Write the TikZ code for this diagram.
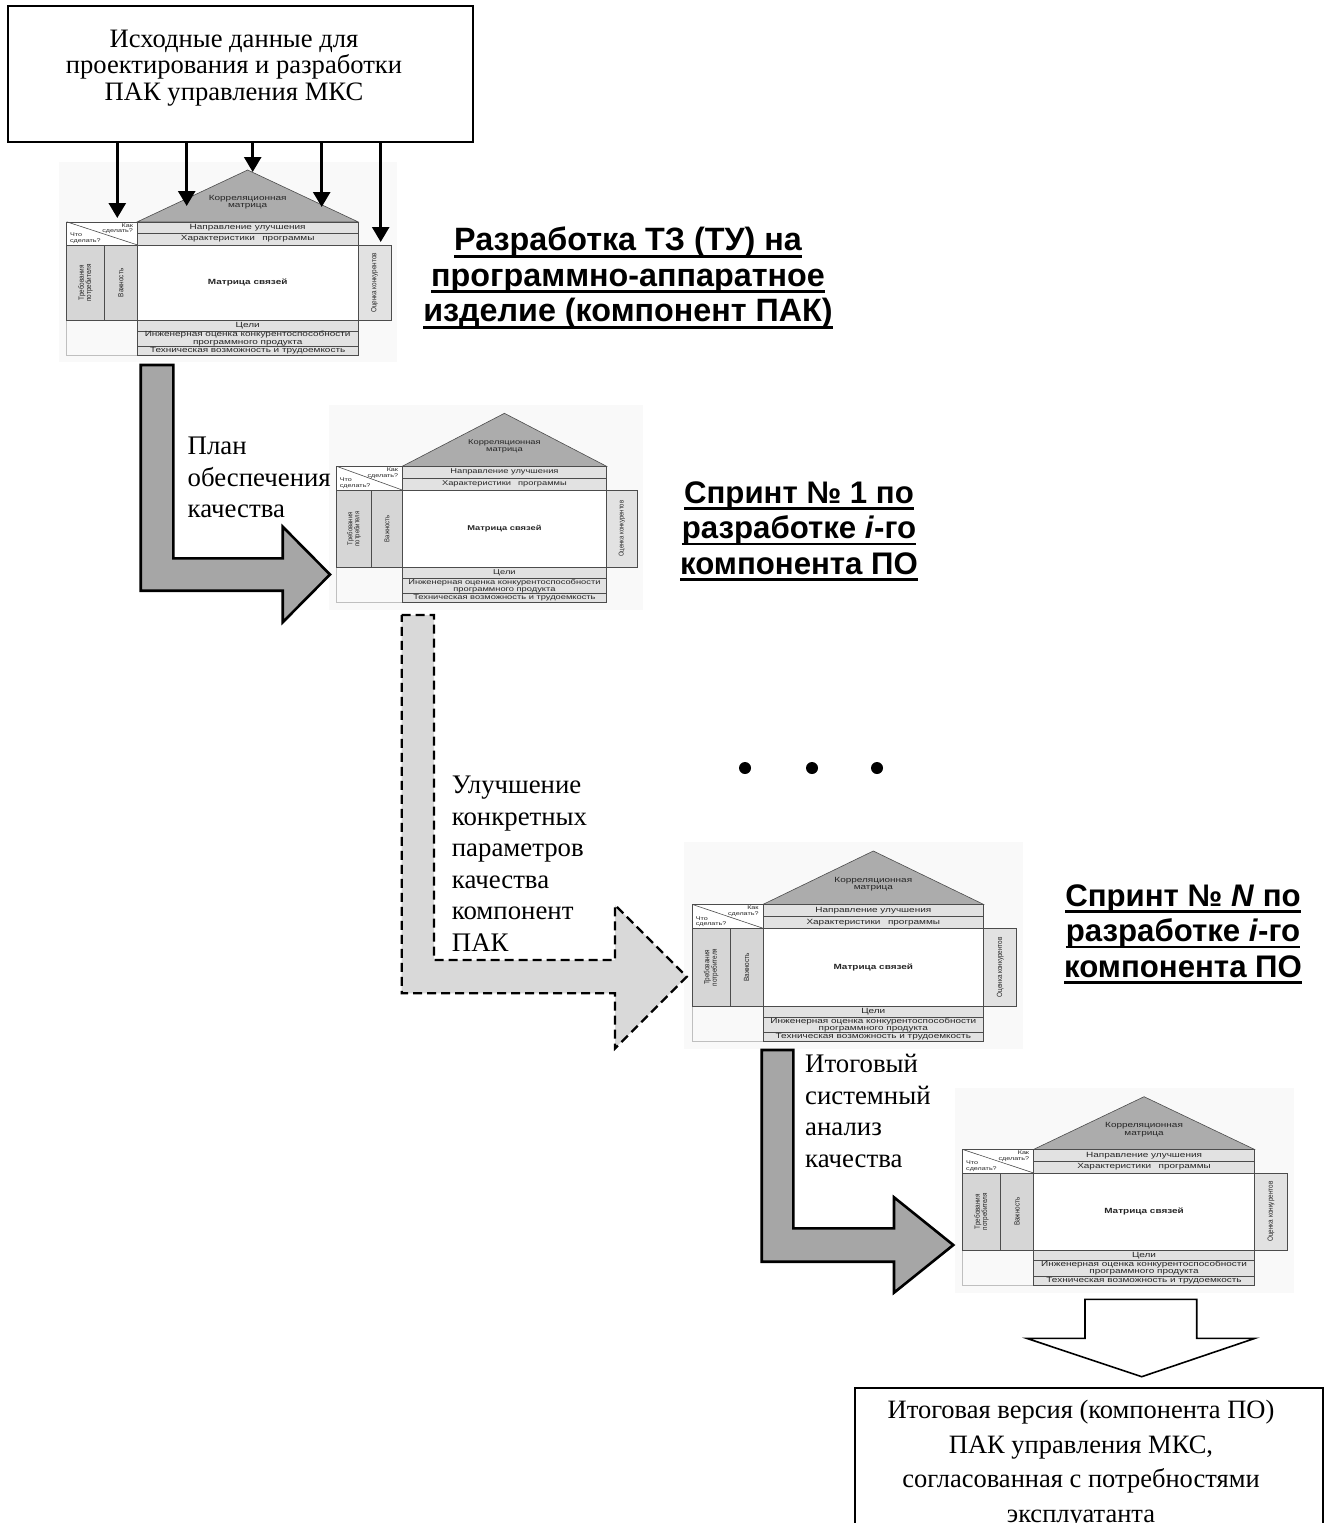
\documentclass[tikz,border=0pt]{standalone}
\usepackage{fontspec}
\usetikzlibrary{arrows.meta}
\setmainfont{Liberation Serif}
\newfontfamily\headsf{Liberation Sans}
\newfontfamily\qfdsf[FakeStretch=1.33]{Liberation Sans}
\newfontfamily\qfdnarrow[FakeStretch=0.85]{Liberation Sans}

% heavy underline for the stage titles
\newcommand{\thickul}[1]{\setbox0\hbox{#1}\leavevmode\rlap{\vrule height -4pt depth 6.6pt width \wd0}\box0}

\definecolor{roofgray}{RGB}{172,172,172}
\definecolor{colgray}{RGB}{214,214,214}
\definecolor{rowgray}{RGB}{226,226,226}
\definecolor{paper}{RGB}{249,249,249}
\definecolor{flowgray}{RGB}{166,166,166}
\definecolor{flowlight}{RGB}{217,217,217}

% House of quality: #1 name, #2/#3 left/apex position, #4/#5 width/height,
% #6/#7 font size and leading of the cell captions
\newcommand{\qfdhouse}[7]{%
\begin{scope}[shift={(#2pt,-#3pt)},x=#4pt,y=-#5pt,
  every node/.style={inner sep=0pt, text=black!85, font=\qfdsf\fontsize{#6}{#7}\selectfont}]
  \fill[paper] (-0.025,-0.045) rectangle (1.02,1.04);
  \draw[draw=black!25, line width=0.6pt] (0,0.815) rectangle (0.218,1);
  \filldraw[qfdline, fill=roofgray] (0.218,0.28) -- (0.558,0) -- (0.898,0.28) -- cycle;
  \filldraw[qfdline, fill=rowgray] (0.218,0.28) rectangle (0.898,0.343);
  \filldraw[qfdline, fill=rowgray] (0.218,0.343) rectangle (0.898,0.405);
  \filldraw[qfdline, fill=white] (0.218,0.405) rectangle (0.898,0.815);
  \filldraw[qfdline, fill=rowgray] (0.898,0.405) rectangle (1,0.815);
  \filldraw[qfdline, fill=white] (0,0.28) rectangle (0.218,0.405);
  \draw[qfdline] (0,0.28) -- (0.218,0.405);
  \filldraw[qfdline, fill=colgray] (0,0.405) rectangle (0.116,0.815);
  \filldraw[qfdline, fill=colgray] (0.116,0.405) rectangle (0.218,0.815);
  \filldraw[qfdline, fill=rowgray] (0.218,0.815) rectangle (0.898,0.87);
  \filldraw[qfdline, fill=rowgray] (0.218,0.87) rectangle (0.898,0.952);
  \filldraw[qfdline, fill=rowgray] (0.218,0.952) rectangle (0.898,1);
  \node[align=center] (#1-corr) at (0.558,0.175) {Корреляционная\\матрица};
  \node (#1-dir) at (0.558,0.3115) {Направление улучшения};
  \node (#1-char) at (0.558,0.374) {Характеристики\quad программы};
  \node[font=\qfdsf\bfseries\fontsize{#6}{#7}\selectfont] (#1-rel) at (0.558,0.61) {Матрица связей};
  \node (#1-goal) at (0.558,0.8425) {Цели};
  \node[align=center] (#1-eng) at (0.558,0.911) {Инженерная оценка конкурентоспособности\\программного продукта};
  \node (#1-tech) at (0.558,0.976) {Техническая возможность и трудоемкость};
  \node[font=\qfdnarrow\fontsize{#6}{#7}\selectfont, rotate=90, align=center] (#1-req) at (0.058,0.61) {Требования\\потребителя};
  \node[font=\qfdnarrow\fontsize{#6}{#7}\selectfont, rotate=90] (#1-imp) at (0.167,0.61) {Важность};
  \node[font=\qfdnarrow\fontsize{#6}{#7}\selectfont, rotate=90] (#1-comp) at (0.949,0.61) {Оценка конкурентов};
  \node[font=\qfdsf\fontsize{5.4}{5.6}\selectfont, align=right, anchor=north east] (#1-how) at (0.205,0.287) {Как\\сделать?};
  \node[font=\qfdsf\fontsize{5.4}{5.6}\selectfont, align=left, anchor=south west] (#1-what) at (0.01,0.398) {Что\\сделать?};
\end{scope}}

\begin{document}
\begin{tikzpicture}[x=1pt,y=-1pt,
  qfdline/.style={draw=black!70, line width=0.6pt},
  flow/.style={line width=2.6pt, line join=miter, miter limit=10},
  feed/.style={line width=2.6pt, -{Triangle[length=15pt,width=17pt]}},
  serif/.style={font=\fontsize{26.8}{31.5}\selectfont, inner sep=0pt},
  head/.style={font=\headsf\bfseries\fontsize{31.2}{35.5}\selectfont, align=center, inner sep=0pt},
  dot/.style={circle, fill=black, inner sep=0pt, minimum size=12pt}]
\clip (0,0) rectangle (1327,1523);
\fill[white] (0,0) rectangle (1327,1523);

% source data
\node[draw, line width=2pt, minimum width=465pt, minimum height=135.7pt, inner sep=0pt] (src) at (240.8,73.85) {};
\node[font=\fontsize{26.6}{26.5}\selectfont, align=center, inner sep=0pt] (srctext) at (234,68)
  {Исходные данные для\\проектирования и разработки\\ПАК управления МКС};

% houses of quality
\qfdhouse{h1}{66.7}{170}{324.3}{185}{7.5}{7.4}
\qfdhouse{h2}{336.7}{413.3}{300.6}{189.4}{7}{7}
\qfdhouse{h3}{692.3}{851}{324.4}{190.7}{7.5}{7.4}
\qfdhouse{h4}{962.7}{1096.7}{325}{188.3}{7.5}{7.4}

% inputs into the first house
\coordinate (in1) at (117.3,218);
\coordinate (in2) at (186.7,206);
\coordinate (in3) at (252.7,172);
\coordinate (in4) at (321.7,207);
\coordinate (in5) at (380.7,242);
\foreach \k in {1,...,5} \draw[feed] (src.south -| in\k) -- (in\k);

% stage titles
\node[head, font=\headsf\bfseries\fontsize{32.3}{35.5}\selectfont] (tz) at (628,278) {\thickul{Разработка ТЗ (ТУ) на}\\\thickul{программно-аппаратное}\\\thickul{изделие (компонент ПАК)}};
\node[head] (s1) at (799,531) {\thickul{Спринт № 1 по}\\\thickul{разработке \textit{i}-го}\\\thickul{компонента ПО}};
\node[head] (sn) at (1183,934) {\thickul{Спринт № \textit{N} по}\\\thickul{разработке \textit{i}-го}\\\thickul{компонента ПО}};

% bent flow arrows
\filldraw[flow, fill=flowgray] (140.7,365) -- (173.3,365) -- (173.3,558.3) -- (282.7,558.3) -- (282.7,526.7)
  -- (330,574.5) -- (282.7,622.3) -- (282.7,590.7) -- (140.7,590.7) -- cycle;
\filldraw[flow, fill=flowlight, line width=2.3pt, dash pattern=on 9pt off 5pt] (401.7,615) -- (434,615) -- (434,960)
  -- (615,960) -- (615,905) -- (686.7,976.7) -- (615,1048.4) -- (615,993.3) -- (401.7,993.3) -- cycle;
\filldraw[flow, fill=flowgray] (761.7,1050) -- (793.3,1050) -- (793.3,1228.3) -- (894,1228.3) -- (894,1197.3)
  -- (953.3,1245) -- (894,1292.7) -- (894,1261.7) -- (761.7,1261.7) -- cycle;

\node[serif, align=left, anchor=north west] (plan) at (187.5,437) {План\\обеспечения\\качества};
\node[serif, align=left, anchor=north west] (impr) at (451.7,776) {Улучшение\\конкретных\\параметров\\качества\\компонент\\ПАК};
\node[serif, align=left, anchor=north west] (sysan) at (805,1054) {Итоговый\\системный\\анализ\\качества};

% further sprints
\node[dot] (e1) at (745,768) {};
\node[dot] (e2) at (812,768) {};
\node[dot] (e3) at (877,768) {};

% result
\filldraw[fill=white, line width=1.6pt, line join=miter] (1085,1299.3) -- (1196.7,1299.3) -- (1196.7,1338.3) -- (1255,1338.3)
  -- (1141.7,1376.7) -- (1026.7,1338.3) -- (1085,1338.3) -- cycle;
\node[draw, line width=2pt, minimum width=468.3pt, minimum height=180pt, anchor=north, inner sep=0pt] (final) at (1089.2,1386.7) {};
\node[font=\fontsize{26.5}{34.6}\selectfont, align=center, inner sep=0pt, anchor=north] (finaltext) at (1081,1400)
  {Итоговая версия (компонента ПО)\\ПАК управления МКС,\\согласованная с потребностями\\эксплуатанта};
\end{tikzpicture}
\end{document}
